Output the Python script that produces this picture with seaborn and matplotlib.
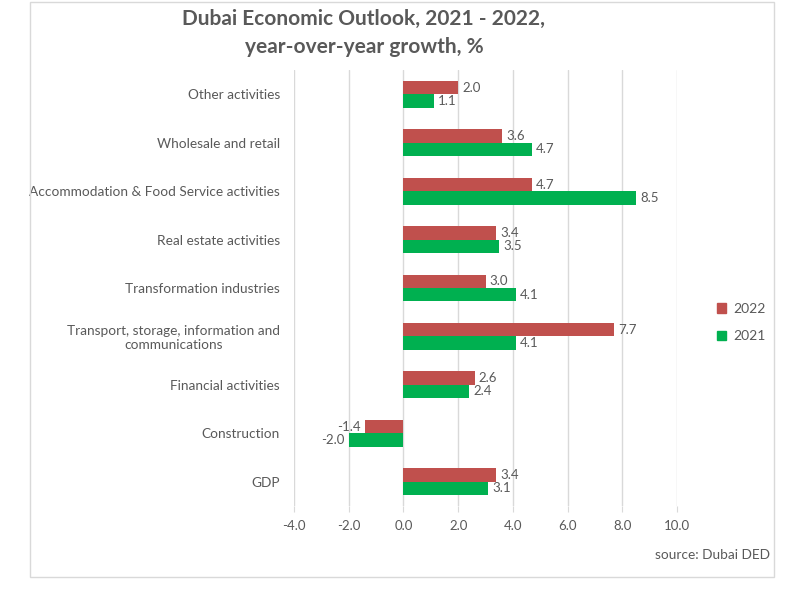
import matplotlib.pyplot as plt
import seaborn as sns
import pandas as pd
from matplotlib.patches import Rectangle, Patch

# Data
categories = [
    "Other activities",
    "Wholesale and retail",
    "Accommodation & Food Service activities",
    "Real estate activities",
    "Transformation industries",
    "Transport, storage, information and\ncommunications",
    "Financial activities",
    "Construction",
    "GDP",
]
growth_2022 = [2.0, 3.6, 4.7, 3.4, 3.0, 7.7, 2.6, -1.4, 3.4]
growth_2021 = [1.1, 4.7, 8.5, 3.5, 4.1, 4.1, 2.4, -2.0, 3.1]
years = ["2022", "2021"]

df = pd.DataFrame({
    "Sector": categories * 2,
    "Year": ["2022"] * len(categories) + ["2021"] * len(categories),
    "Growth": growth_2022 + growth_2021,
})

sns.set_style("white")
plt.rcParams["font.family"] = ["Lato", "DejaVu Sans"]
text_color = "#595959"
red, green = "#C0504D", "#00B050"

fig = plt.figure(figsize=(8, 6), dpi=100)
ax = fig.add_axes([0.3675, 0.157, 0.4788, 0.726])

sns.barplot(data=df, y="Sector", x="Growth", hue="Year", hue_order=years,
            order=categories, palette=[red, green], saturation=1,
            width=0.55, orient="h", linewidth=0, ax=ax, legend=False)

for cont in ax.containers:
    ax.bar_label(cont, fmt="%.1f", padding=3, fontsize=9.5, color=text_color)

ax.set_xlim(-4, 10)
ax.set_xticks(range(-4, 11, 2))
ax.set_xticklabels([f"{v:.1f}" for v in range(-4, 11, 2)])
ax.xaxis.grid(True, color="#D9D9D9", linewidth=1)
ax.set_axisbelow(True)
ax.tick_params(axis="x", colors=text_color, labelsize=9.5, length=4,
               direction="out", bottom=True, pad=6)
ax.tick_params(axis="x", color="#D9D9D9")
ax.tick_params(axis="y", colors=text_color, labelsize=9.8, length=0, pad=10)
for lbl in ax.get_yticklabels():
    lbl.set_multialignment("center")
ax.set_xlabel("")
ax.set_ylabel("")
for s in ax.spines.values():
    s.set_visible(False)

# legend
handles = [Patch(color=red, label="2022"), Patch(color=green, label="2021")]
fig.legend(handles=handles, loc="center left", bbox_to_anchor=(0.88, 0.462),
           frameon=False, fontsize=10, labelcolor=text_color, handlelength=0.7,
           handleheight=0.7, handletextpad=0.5, labelspacing=1.1)

fig.text(0.455, 0.945, "Dubai Economic Outlook, 2021 - 2022,\nyear-over-year growth, %",
         ha="center", va="center", fontsize=15, fontweight="bold",
         color=text_color, linespacing=1.45)
fig.text(0.962, 0.075, "source: Dubai DED", ha="right", va="center",
         fontsize=9.8, color=text_color)

fig.patches.append(Rectangle((0.038, 0.038), 0.93, 0.958, transform=fig.transFigure,
                             fill=False, edgecolor="#D9D9D9", linewidth=1))

plt.savefig("out.png", dpi=100)
